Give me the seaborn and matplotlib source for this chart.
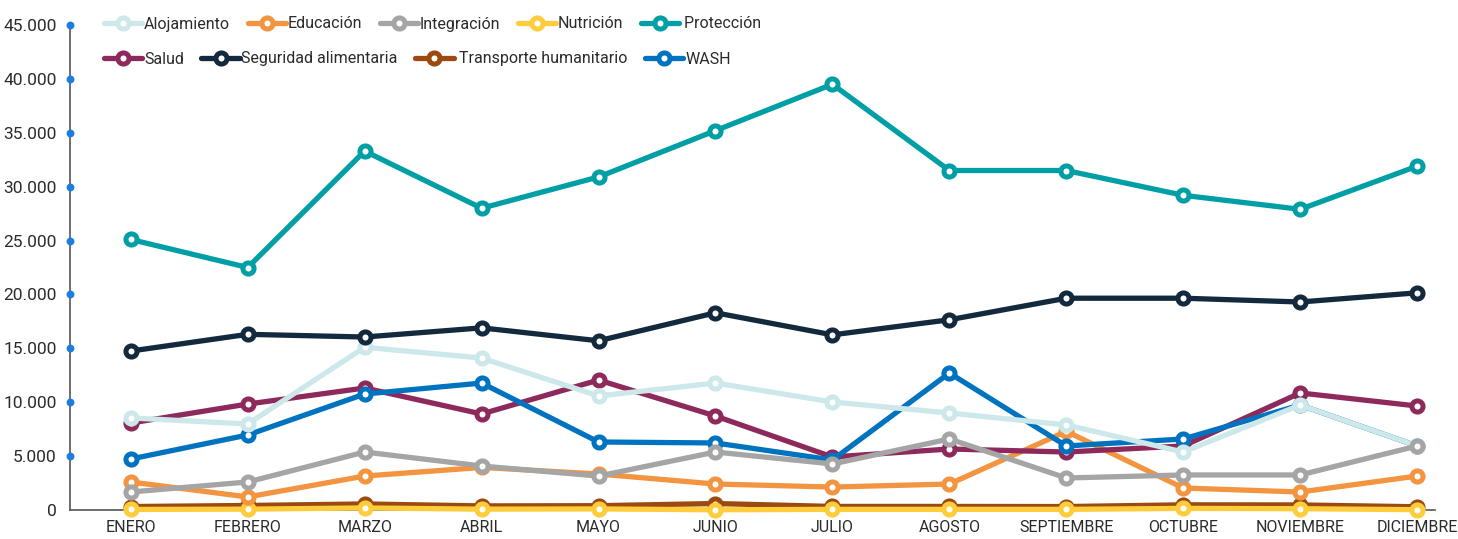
import numpy as np
import matplotlib
matplotlib.use("Agg")
import matplotlib.pyplot as plt
from matplotlib.lines import Line2D
import seaborn as sns

sns.set_style("white")
plt.rcParams['font.family'] = ['Roboto', 'DejaVu Sans']

# months on the x axis
meses = ["ENERO", "FEBRERO", "MARZO", "ABRIL", "MAYO", "JUNIO", "JULIO",
         "AGOSTO", "SEPTIEMBRE", "OCTUBRE", "NOVIEMBRE", "DICIEMBRE"]

# values per sector
alojamiento = [8540, 7980, 15100, 14100, 10580, 11780, 10020, 9000, 7890, 5380, 9740, 5940]
educacion = [2600, 1210, 3150, 3950, 3340, 2410, 2130, 2410, 7300, 2040, 1670, 3150]
integracion = [1670, 2600, 5380, 4080, 3150, 5380, 4270, 6590, 2970, 3250, 3250, 5940]
nutricion = [50, 80, 190, 80, 100, 20, 60, 60, 60, 150, 120, 30]
proteccion = [25100, 22500, 33300, 28000, 30900, 35200, 39500, 31500, 31500, 29200, 27900, 31900]
salud = [8070, 9830, 11320, 8910, 12060, 8720, 4920, 5660, 5380, 5940, 10860, 9650]
seguridad = [14750, 16300, 16050, 16900, 15700, 18300, 16250, 17650, 19650, 19650, 19300, 20150]
transporte = [320, 420, 560, 380, 400, 600, 330, 330, 320, 480, 470, 300]
wash = [4730, 6960, 10760, 11780, 6310, 6220, 4640, 12710, 5940, 6590, 9740, 5940]

yticks = [0, 5000, 10000, 15000, 20000, 25000, 30000, 35000, 40000, 45000]
ytick_labels = ["0", "5.000", "10.000", "15.000", "20.000", "25.000",
                "30.000", "35.000", "40.000", "45.000"]

# name, values, colour, drawing order
series = [
    ("Alojamiento", alojamiento, "#cde8ea", 7),
    ("Educación", educacion, "#f39440", 4),
    ("Integración", integracion, "#a5a5a5", 8),
    ("Nutrición", nutricion, "#ffcd3c", 3),
    (" Protección", proteccion, "#009fa6", 10),
    ("Salud", salud, "#8e2a5b", 5),
    ("Seguridad alimentaria", seguridad, "#13293d", 9),
    (" Transporte humanitario", transporte, "#9c4a0f", 2),
    ("WASH", wash, "#0073c0", 6),
]

fig = plt.figure(figsize=(14.58, 5.39), dpi=100)
ax = fig.add_axes([0.048, 1 - 510 / 539, 0.936, 485 / 539])

x = np.arange(len(meses))
lw, ms, mew = 3.8, 8, 3.6
for name, vals, col, z in series:
    sns.lineplot(x=x, y=vals, color=col, linewidth=lw, marker="o",
                 markersize=ms, markerfacecolor="white", markeredgecolor=col,
                 markeredgewidth=mew, zorder=z, ax=ax, clip_on=False)

ax.set_xlim(-0.52, 11.15)
ax.set_ylim(0, 45000)
ax.set_xticks(x)
ax.set_xticklabels(meses)
ax.set_yticks(yticks)
ax.set_yticklabels(ytick_labels)
ax.tick_params(axis="both", length=0, labelcolor="#2b2b2b")
ax.tick_params(axis="x", pad=7, labelsize=11.5)
ax.tick_params(axis="y", pad=9.5, labelsize=12.5)

# blue dots on the y axis in place of tick marks
ax.scatter(np.zeros(len(yticks) - 1), yticks[1:], s=32, color="#1a7fe0",
           linewidths=0, transform=ax.get_yaxis_transform(), clip_on=False, zorder=12)

for s in ["top", "right"]:
    ax.spines[s].set_visible(False)
for s in ["left", "bottom"]:
    ax.spines[s].set_color("#555555")
    ax.spines[s].set_linewidth(1.2)

handles = [Line2D([0], [0], color=col, linewidth=lw, marker="o", markersize=ms,
                  markerfacecolor="white", markeredgecolor=col, markeredgewidth=mew)
           for _, _, col, _ in series]
labels = [s[0] for s in series]

kw = dict(frameon=False, fontsize=11.5, handlelength=2.4, handletextpad=0.1,
          columnspacing=1.1, borderaxespad=0, borderpad=0, labelcolor="#2b2b2b")
leg1 = fig.legend(handles[:5], labels[:5], ncol=5, loc="center left",
                  bbox_to_anchor=(104 / 1458, 1 - 24 / 539), **kw)
leg2 = fig.legend(handles[5:], labels[5:], ncol=4, loc="center left",
                  bbox_to_anchor=(104 / 1458, 1 - 59 / 539), **kw)

fig.savefig("out.png", dpi=100)
